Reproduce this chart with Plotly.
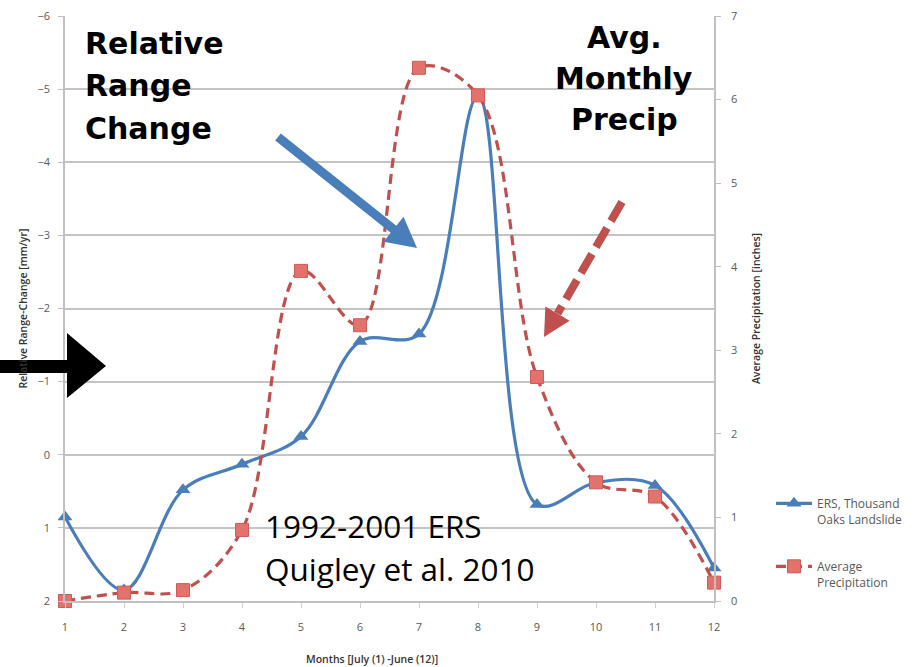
import plotly.graph_objects as go

# ---------------- data ----------------
months = [1, 2, 3, 4, 5, 6, 7, 8, 9, 10, 11, 12]
ers_range_change = [0.85, 1.85, 0.48, 0.13, -0.25, -1.55, -1.65, -4.9, 0.68, 0.38, 0.42, 1.55]
avg_precip = [0.0, 0.10, 0.13, 0.85, 3.95, 3.30, 6.38, 6.05, 2.68, 1.42, 1.25, 0.22]
left_ticks = [-6, -5, -4, -3, -2, -1, 0, 1, 2]
right_ticks = [0, 1, 2, 3, 4, 5, 6, 7]

BLUE = "#4a7ebb"
RED = "#c0504d"
RED_FILL = "#e3726d"
TICK = "#595959"
TITLE = "#333333"

W, H = 919, 667
L, R, T, B = 65, 714, 16, 601


def px(x):
    return (x - L) / (R - L)


def py(y):
    return (B - y) / (B - T)


def poly(points):
    s = "M " + " L ".join(f"{px(x):.5f} {py(y):.5f}" for x, y in points) + " Z"
    return s


def arrow_polygon(tail, tip, half_shaft, head_len, head_half):
    dx, dy = tip[0] - tail[0], tip[1] - tail[1]
    ln = (dx * dx + dy * dy) ** 0.5
    ux, uy = dx / ln, dy / ln
    nx, ny = -uy, ux
    bx, by = tip[0] - ux * head_len, tip[1] - uy * head_len
    return [
        (tail[0] + nx * half_shaft, tail[1] + ny * half_shaft),
        (bx + nx * half_shaft, by + ny * half_shaft),
        (bx + nx * head_half, by + ny * head_half),
        tip,
        (bx - nx * head_half, by - ny * head_half),
        (bx - nx * half_shaft, by - ny * half_shaft),
        (tail[0] - nx * half_shaft, tail[1] - ny * half_shaft),
    ], (bx, by)


fig = go.Figure()

fig.add_trace(go.Scatter(
    x=months, y=ers_range_change, name="ERS, Thousand<br>Oaks Landslide",
    mode="lines+markers", line=dict(color=BLUE, width=3.2, shape="spline", smoothing=1.0),
    marker=dict(symbol="triangle-up", size=13, color=BLUE),
    cliponaxis=False, yaxis="y", legend="legend", showlegend=True,
))
fig.add_trace(go.Scatter(
    x=months, y=avg_precip, name="Average<br>Precipitation",
    mode="lines+markers", line=dict(color=RED, width=3.2, dash="10px,6px", shape="spline", smoothing=1.0),
    marker=dict(symbol="square", size=13, color=RED_FILL, line=dict(color="#d05a56", width=1)),
    cliponaxis=False, yaxis="y2", legend="legend2", showlegend=True,
))

shapes = []
# blue arrow
bpoly, _ = arrow_polygon((278, 137), (417, 248), 4.5, 30, 16)
shapes.append(dict(type="path", xref="paper", yref="paper", path=poly(bpoly),
                   fillcolor=BLUE, line=dict(width=0)))
# red dashed arrow
tail, tip = (622, 202), (544, 337)
rpoly, (bx, by) = arrow_polygon(tail, tip, 4, 27, 14)
shapes.append(dict(type="line", xref="paper", yref="paper",
                   x0=px(tail[0]), y0=py(tail[1]), x1=px(bx), y1=py(by),
                   line=dict(color=RED, width=8, dash="22px,8px")))
shapes.append(dict(type="path", xref="paper", yref="paper",
                   path=poly([rpoly[2], rpoly[3], rpoly[4]]),
                   fillcolor=RED, line=dict(width=0)))
# black arrow
kpoly = [(0, 360), (67, 360), (67, 333), (106, 366), (67, 398), (67, 373), (0, 373)]
shapes.append(dict(type="path", xref="paper", yref="paper", path=poly(kpoly),
                   fillcolor="black", line=dict(width=0)))

annotations = []
big = dict(family="DejaVu Sans", size=30, color="black", weight="bold")
for txt, yb in [("Relative", 56), ("Range", 98), ("Change", 141)]:
    annotations.append(dict(text=txt, xref="paper", yref="paper", x=px(83), y=py(yb),
                            xanchor="left", yanchor="bottom", showarrow=False, font=big,
                            yshift=-7))
for txt, yb in [("Avg.", 50), ("Monthly", 91), ("Precip", 132)]:
    annotations.append(dict(text=txt, xref="paper", yref="paper", x=px(624), y=py(yb),
                            xanchor="center", yanchor="bottom", showarrow=False, font=big,
                            yshift=-7))
src = dict(family="Open Sans", size=31.5, color="black")
for txt, yb in [("1992-2001 ERS", 540), ("Quigley et al. 2010", 583)]:
    annotations.append(dict(text=txt, xref="paper", yref="paper", x=px(263), y=py(yb),
                            xanchor="left", yanchor="bottom", showarrow=False, font=src,
                            yshift=-9))
annotations.append(dict(text="Months [July (1) -June (12)]", xref="paper", yref="paper",
                        x=px(372), y=py(659), xanchor="center", yanchor="middle",
                        showarrow=False, font=dict(family="Open Sans", size=10.5, color=TITLE, weight=600)))

fig.update_layout(
    template="none",
    width=W, height=H,
    margin=dict(l=L, r=W - R, t=T, b=H - B),
    paper_bgcolor="white", plot_bgcolor="white",
    showlegend=True,
    shapes=shapes, annotations=annotations,
    xaxis=dict(range=[1, 12], tickvals=months, showgrid=False,
               zeroline=False,
               showline=True, linecolor="#c0c0c0", linewidth=1.5,
               ticks="outside", ticklen=5, tickcolor="#d0d0d0",
               ticklabelstandoff=10,
               tickfont=dict(family="Open Sans", size=11, color=TICK)),
    yaxis=dict(range=[2, -6], tickvals=left_ticks, showgrid=True, gridcolor="#c4c4c4",
               gridwidth=1.5, zeroline=False, showline=True, linecolor="#c0c0c0", linewidth=1.5,
               ticks="outside", ticklen=5, tickcolor="#c0c0c0", ticklabelstandoff=6,
               tickfont=dict(family="Open Sans", size=11, color=TICK),
               title=dict(text="Relative Range-Change [mm/yr]", standoff=8,
                          font=dict(family="Open Sans", size=10.5, color=TITLE, weight=600))),
    yaxis2=dict(range=[0, 7], tickvals=right_ticks, overlaying="y", side="right",
                showgrid=False, zeroline=False, showline=True, linecolor="#c0c0c0", linewidth=1.5,
                ticks="outside", ticklen=5, tickcolor="#c0c0c0", ticklabelstandoff=8,
                tickfont=dict(family="Open Sans", size=11, color=TICK),
                title=dict(text="Average Precipitation [inches]", standoff=16,
                           font=dict(family="Open Sans", size=10.5, color=TITLE, weight=600))),
    legend=dict(x=px(771), y=py(489), xanchor="left", yanchor="top", valign="top",
                bgcolor="rgba(0,0,0,0)", itemwidth=36,
                font=dict(family="Open Sans", size=12, color=TICK)),
    legend2=dict(x=px(771), y=py(552), xanchor="left", yanchor="top", valign="top",
                 bgcolor="rgba(0,0,0,0)", itemwidth=36,
                 font=dict(family="Open Sans", size=12, color=TICK)),
)

fig.write_html("out.html")
